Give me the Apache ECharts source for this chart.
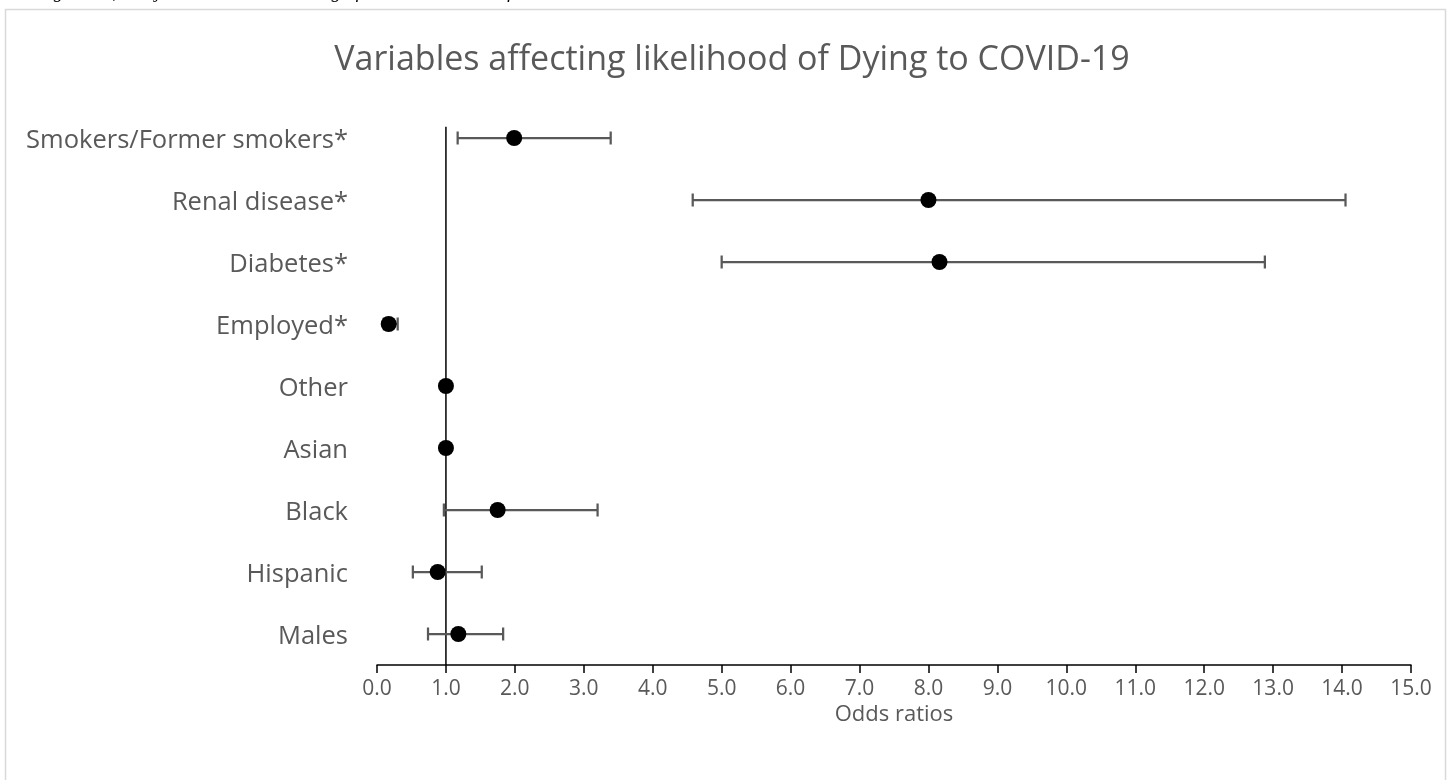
<!DOCTYPE html>
<html>
<head>
<meta charset="utf-8">
<script src="https://cdn.jsdelivr.net/npm/echarts@6/dist/echarts.min.js"></script>
<style>
html,body{margin:0;padding:0;background:#fff;}
#chart{width:1447px;height:780px;}
</style>
</head>
<body>
<div id="chart"></div>
<script>
// Categories from bottom to top
const categories = ['Males', 'Hispanic', 'Black', 'Asian', 'Other', 'Employed*', 'Diabetes*', 'Renal disease*', 'Smokers/Former smokers*'];
const categoryPos = [0.5, 1.5, 2.5, 3.5, 4.5, 5.5, 6.5, 7.5, 8.5];
const oddsRatio = [1.18, 0.88, 1.75, 1.0, 1.0, 0.17, 8.16, 8.0, 1.99];
const ciLow =     [0.74, 0.52, 0.97, null, null, 0.10, 5.0, 4.58, 1.17];
const ciHigh =    [1.83, 1.52, 3.20, null, null, 0.30, 12.88, 14.05, 3.39];
const refLineX = 1;
const refLineY = [0, 8.68];
const title = 'Variables affecting likelihood of Dying to COVID-19';
const xName = 'Odds ratios';
const caption = 'smoking status, and job status. Statistical significance is denoted of variables with a asterisk';

const chart = echarts.init(document.getElementById('chart'));
const gray = '#595959';
const font = '"Open Sans", "Liberation Sans", sans-serif';

const pointData = oddsRatio.map((v, i) => [v, categoryPos[i]]);
const errData = [];
ciLow.forEach((lo, i) => { if (lo != null) errData.push([lo, ciHigh[i], categoryPos[i]]); });

chart.setOption({
  animation: false,
  backgroundColor: '#fff',
  title: {
    text: title,
    left: 727, top: 38, textAlign: 'center',
    textStyle: { fontFamily: font, fontSize: 34, fontWeight: 'normal', color: gray }
  },
  graphic: [
    { type: 'rect', left: 3, top: 7, shape: { width: 1440, height: 800 }, style: { fill: 'none', stroke: '#d9d9d9', lineWidth: 1.5 }, silent: true, z: -10 },
    { type: 'text', left: 0, top: -17, style: { text: caption, font: 'italic 19px "Liberation Serif", serif', fill: '#000' }, silent: true }
  ],
  grid: { left: 377, right: 36, top: 107, bottom: 115, containLabel: false },
  xAxis: {
    type: 'value', min: 0, max: 15, interval: 1,
    name: xName, nameLocation: 'middle', nameGap: 39, nameMoveOverlap: false,
    nameTextStyle: { fontFamily: font, fontSize: 22, color: gray },
    axisLine: { show: true, lineStyle: { color: '#000', width: 1.5 } },
    axisTick: { show: true, length: 8, lineStyle: { color: '#000', width: 1.5 } },
    axisLabel: { formatter: v => v.toFixed(1), margin: 14, fontFamily: font, fontSize: 21, color: gray },
    splitLine: { show: false }
  },
  yAxis: {
    type: 'value', min: 0, max: 9, interval: 0.5,
    axisLine: { show: false }, axisTick: { show: false }, splitLine: { show: false },
    axisLabel: {
      margin: 29, fontFamily: font, fontSize: 25.5, color: gray,
      formatter: v => { const i = categoryPos.indexOf(v); return i >= 0 ? '{c|' + categories[i] + '}' : ''; },
      rich: { c: { fontFamily: font, fontSize: 25.5, color: gray, padding: [6, 0, 0, 0] } }
    }
  },
  series: [
    {
      type: 'line', data: [[refLineX, refLineY[0]], [refLineX, refLineY[1]]],
      symbol: 'none', lineStyle: { color: '#000', width: 1.5 }, z: 1, silent: true
    },
    {
      type: 'custom', z: 2, data: errData,
      encode: { x: [0, 1], y: 2 },
      renderItem: (params, api) => {
        const y = api.value(2);
        const p1 = api.coord([api.value(0), y]);
        const p2 = api.coord([api.value(1), y]);
        const h = 6.5;
        const st = { stroke: gray, lineWidth: 2.25 };
        return { type: 'group', children: [
          { type: 'line', shape: { x1: p1[0], y1: p1[1], x2: p2[0], y2: p2[1] }, style: st },
          { type: 'line', shape: { x1: p1[0], y1: p1[1] - h, x2: p1[0], y2: p1[1] + h }, style: st },
          { type: 'line', shape: { x1: p2[0], y1: p2[1] - h, x2: p2[0], y2: p2[1] + h }, style: st }
        ]};
      }
    },
    {
      type: 'scatter', z: 3, data: pointData, symbol: 'circle', symbolSize: 16,
      itemStyle: { color: '#000', opacity: 1 }
    }
  ]
});
</script>
</body>
</html>
